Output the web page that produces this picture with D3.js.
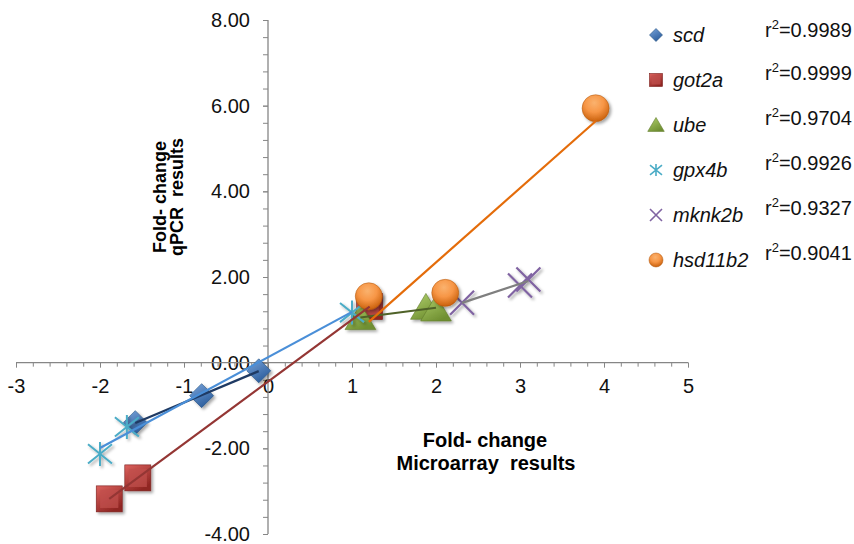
<!DOCTYPE html>
<html>
<head>
<meta charset="utf-8">
<script src="https://cdn.jsdelivr.net/npm/d3@7"></script>
<style>
  body { margin: 0; background: #fff; }
  text { font-family: Arial, "Liberation Sans", sans-serif; white-space: pre; }
</style>
</head>
<body>
<div id="chart"></div>
<script>
"use strict";

// Series names and r2 labels (legend)
var genes = ["scd", "got2a", "ube", "gpx4b", "mknk2b", "hsd11b2"];
var rSquared = ["0.9989", "0.9999", "0.9704", "0.9926", "0.9327", "0.9041"];

// Fold-change values : microarray (x) and qPCR (y)
var scdMicro = [-1.58, -0.79, -0.11];
var scdQpcr = [-1.40, -0.77, -0.19];
var got2aMicro = [-1.89, -1.55, 1.21];
var got2aQpcr = [-3.18, -2.69, 1.31];
var ubeMicro = [1.10, 1.88, 2.00];
var ubeQpcr = [1.05, 1.29, 1.25];
var gpx4bMicro = [-2.00, -1.68, 1.00];
var gpx4bQpcr = [-2.13, -1.50, 1.17];
var mknk2bMicro = [2.31, 3.00, 3.10];
var mknk2bQpcr = [1.40, 1.80, 1.94];
var hsd11b2Micro = [1.20, 2.11, 3.90];
var hsd11b2Qpcr = [1.55, 1.63, 5.94];

// Ticks
var xTicks = [-3, -2, -1, 0, 1, 2, 3, 4, 5];
var yTicks = [-4, -2, 0, 2, 4, 6, 8];

var microData = [scdMicro, got2aMicro, ubeMicro, gpx4bMicro, mknk2bMicro, hsd11b2Micro];
var qpcrData = [scdQpcr, got2aQpcr, ubeQpcr, gpx4bQpcr, mknk2bQpcr, hsd11b2Qpcr];

// styles per series
var markerType = ["diamond", "square", "triangle", "star", "cross", "circle"];
var lightCol = ["#7aa5dc", "#dc625e", "#b3d36e", "#4bacc6", "#8064a2", "#f79646"];
var darkCol = ["#2c5d9c", "#8f2522", "#6f8f31", "#4bacc6", "#8064a2", "#c9600c"];
var lineCol = ["#1f3a63", "#943634", "#4f6228", "#4a8fd8", "#7f7f7f", "#e46c0a"];

var larg = 854, haut = 544;

var svg = d3.select("#chart").append("svg")
	.attr("width", larg)
	.attr("height", haut);

var defs = svg.append("defs");

var shadow = defs.append("filter").attr("id", "ombre")
	.attr("x", "-50%").attr("y", "-50%").attr("width", "200%").attr("height", "200%");
shadow.append("feDropShadow")
	.attr("dx", 2).attr("dy", 2).attr("stdDeviation", 1.5)
	.attr("flood-color", "#000").attr("flood-opacity", 0.35);

// gradients for the 3D looking markers
genes.forEach(function(g, i){
	var lg = defs.append("linearGradient").attr("id", "lg" + i)
		.attr("x1", "0").attr("y1", "0").attr("x2", "0.6").attr("y2", "1");
	lg.append("stop").attr("offset", "0%").attr("stop-color", lightCol[i]);
	lg.append("stop").attr("offset", "100%").attr("stop-color", darkCol[i]);
	var rg = defs.append("radialGradient").attr("id", "rg" + i)
		.attr("cx", "45%").attr("cy", "30%").attr("r", "70%");
	rg.append("stop").attr("offset", "0%").attr("stop-color", "#fab26e");
	rg.append("stop").attr("offset", "50%").attr("stop-color", lightCol[i]);
	rg.append("stop").attr("offset", "100%").attr("stop-color", darkCol[i]);
});

var x = d3.scaleLinear().domain([-3, 5]).range([16, 688]);
var y = d3.scaleLinear().domain([-4, 8]).range([534, 20]);

var x0 = x(0), y0 = y(0);
var axisCol = "#868686";

// minor ticks
svg.append("g")
	.attr("transform", "translate(0," + y0 + ")")
	.call(d3.axisBottom(x).tickValues(d3.range(-3, 5.001, 0.2)).tickSize(4).tickFormat(""))
	.call(function(g){ g.select(".domain").remove(); g.selectAll("line").attr("stroke", axisCol); });
svg.append("g")
	.attr("transform", "translate(" + x0 + ",0)")
	.call(d3.axisLeft(y).tickValues(d3.range(-4, 8.001, 0.4)).tickSize(5).tickFormat(""))
	.call(function(g){ g.select(".domain").remove(); g.selectAll("line").attr("stroke", axisCol); });

// major ticks and labels
svg.append("g")
	.attr("transform", "translate(0," + y0 + ")")
	.call(d3.axisBottom(x).tickValues(xTicks).tickSize(5).tickPadding(11)
		.tickFormat(function(d){ return String(d); }))
	.call(function(g){
		g.select(".domain").remove();
		g.selectAll("line").attr("stroke", axisCol);
		g.selectAll("text").attr("font-size", 20).attr("fill", "#111")
			.style("font-family", "Arial, 'Liberation Sans', sans-serif");
	});
svg.append("g")
	.attr("transform", "translate(" + x0 + ",0)")
	.call(d3.axisLeft(y).tickValues(yTicks).tickSize(5).tickPadding(13)
		.tickFormat(function(d){ return d.toFixed(2); }))
	.call(function(g){
		g.select(".domain").remove();
		g.selectAll("line").attr("stroke", axisCol);
		g.selectAll("text").attr("font-size", 20).attr("fill", "#111")
			.style("font-family", "Arial, 'Liberation Sans', sans-serif");
	});

// axis lines
svg.append("line").attr("x1", x(-3)).attr("x2", x(5)).attr("y1", y0).attr("y2", y0)
	.attr("stroke", axisCol).attr("stroke-width", 1.3);
svg.append("line").attr("x1", x0).attr("x2", x0).attr("y1", y(8)).attr("y2", y(-4))
	.attr("stroke", axisCol).attr("stroke-width", 1.3);

// axis titles
svg.append("text").attr("x", 485).attr("y", 447).attr("text-anchor", "middle")
	.attr("font-size", 20).attr("font-weight", "bold").text("Fold- change");
svg.append("text").attr("x", 486).attr("y", 470).attr("text-anchor", "middle")
	.attr("font-size", 20).attr("font-weight", "bold").text("Microarray  results");
var yt = svg.append("g").attr("transform", "translate(160,197) rotate(-90)");
yt.append("text").attr("x", 0).attr("y", 6).attr("text-anchor", "middle")
	.attr("font-size", 18).attr("font-weight", "bold").text("Fold- change");
yt.append("text").attr("x", 0).attr("y", 23).attr("text-anchor", "middle")
	.attr("font-size", 18).attr("font-weight", "bold").text("qPCR  results");

// draws one marker centred on 0,0
function drawMarker(g, type, i, s){
	if(type === "diamond"){
		g.append("path").attr("d", "M0," + (-s) + "L" + s + ",0L0," + s + "L" + (-s) + ",0Z")
			.attr("fill", "url(#lg" + i + ")").attr("stroke", "#24507f").attr("stroke-width", 0.6);
	}
	else if(type === "square"){
		g.append("rect").attr("x", -s).attr("y", -s).attr("width", 2*s).attr("height", 2*s)
			.attr("fill", "url(#lg" + i + ")").attr("stroke", "#7a1f1c").attr("stroke-width", 0.6);
		g.append("rect").attr("x", -s*0.7).attr("y", -s*0.7).attr("width", 1.4*s).attr("height", 1.4*s)
			.attr("fill", "#c0504d").attr("opacity", 0.7);
	}
	else if(type === "triangle"){
		g.append("path").attr("d", "M0," + (-s) + "L" + (s*1.1) + "," + (s*0.85) + "L" + (-s*1.1) + "," + (s*0.85) + "Z")
			.attr("fill", "url(#lg" + i + ")").attr("stroke", "#5f7a2a").attr("stroke-width", 0.6);
	}
	else if(type === "circle"){
		g.append("circle").attr("r", s)
			.attr("fill", "url(#rg" + i + ")").attr("stroke", "#b0560b").attr("stroke-width", 0.5);
	}
	else if(type === "cross"){
		g.append("path").attr("d", "M" + (-s) + "," + (-s) + "L" + s + "," + s + "M" + (-s) + "," + s + "L" + s + "," + (-s))
			.attr("stroke", darkCol[i]).attr("stroke-width", s > 8 ? 2.2 : 1.6).attr("fill", "none");
	}
	else if(type === "star"){
		g.append("path").attr("d", "M" + (-s) + "," + (-s*0.8) + "L" + s + "," + (s*0.8) +
				"M" + (-s) + "," + (s*0.8) + "L" + s + "," + (-s*0.8) + "M0," + (-s) + "L0," + s)
			.attr("stroke", darkCol[i]).attr("stroke-width", s > 8 ? 2 : 1.6).attr("fill", "none");
	}
}

var bigSize = [12, 13, 14, 12, 12, 13.5];
var smallSize = [6.5, 6.5, 7.5, 6, 6, 7];

// markers first
genes.forEach(function(gene, i){
	var pts = microData[i].map(function(v, k){ return [v, qpcrData[i][k]]; });
	var grp = svg.append("g").attr("filter", "url(#ombre)");
	pts.forEach(function(p){
		var m = grp.append("g").attr("transform", "translate(" + x(p[0]) + "," + y(p[1]) + ")");
		drawMarker(m, markerType[i], i, bigSize[i]);
	});
});

// linear trendlines on top
genes.forEach(function(gene, i){
	var xs = microData[i], ys = qpcrData[i];
	var mx = d3.mean(xs), my = d3.mean(ys);
	var sxy = d3.sum(xs, function(v, k){ return (v - mx) * (ys[k] - my); });
	var sxx = d3.sum(xs, function(v){ return (v - mx) * (v - mx); });
	var b = sxy / sxx, a = my - b * mx;
	var xa = d3.min(xs), xb = d3.max(xs);
	svg.append("line")
		.attr("x1", x(xa)).attr("y1", y(a + b * xa))
		.attr("x2", x(xb)).attr("y2", y(a + b * xb))
		.attr("stroke", lineCol[i]).attr("stroke-width", 2.2);
});

// legend
var legend = svg.append("g");
genes.forEach(function(gene, i){
	var ly = 35 + 45 * i;
	var m = legend.append("g").attr("transform", "translate(656," + ly + ")");
	drawMarker(m, markerType[i], i, smallSize[i]);
	legend.append("text").attr("x", 673).attr("y", ly + 7)
		.attr("font-size", 20).attr("font-style", "italic").attr("fill", "#111").text(gene);
	var rt = legend.append("text").attr("x", 765).attr("y", ly + 2 - (i === 0 ? 0 : 2))
		.attr("font-size", 20).attr("fill", "#111");
	rt.append("tspan").text("r");
	rt.append("tspan").attr("font-size", 13).attr("dy", -8).text("2");
	rt.append("tspan").attr("dy", 8).text("=" + rSquared[i]);
});
</script>
</body>
</html>
